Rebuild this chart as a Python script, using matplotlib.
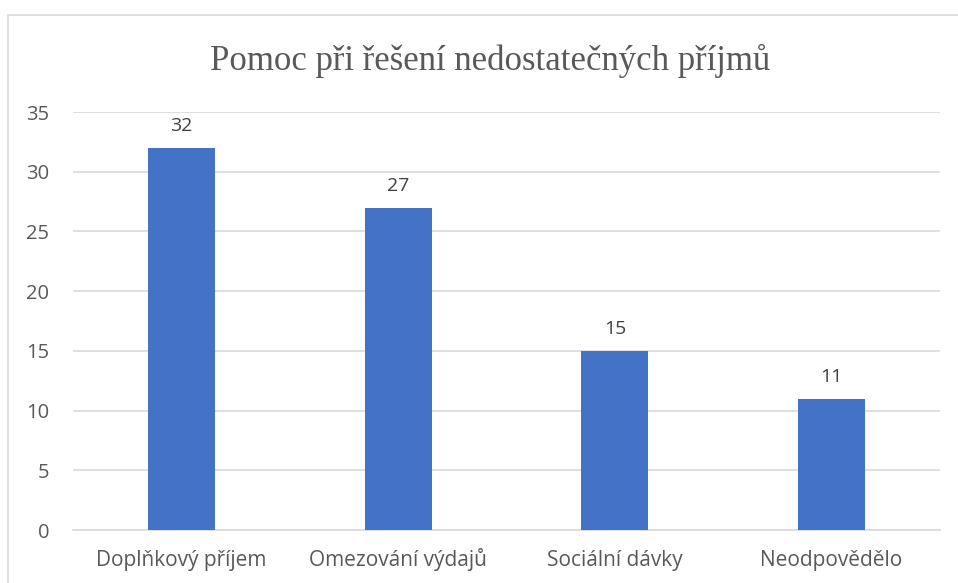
import matplotlib.pyplot as plt
from matplotlib.patches import Rectangle

# data
categories = ["Doplňkový příjem", "Omezování výdajů", "Sociální dávky", "Neodpovědělo"]
values = [32, 27, 15, 11]
yticks = [0, 5, 10, 15, 20, 25, 30, 35]

W, H = 958, 583
bar_color = "#4472C4"
text_gray = "#595959"
grid_gray = "#D9D9D9"

fig = plt.figure(figsize=(W / 100, H / 100), dpi=100)
ax = fig.add_axes([73 / W, 53 / H, (940 - 73) / W, (530 - 112) / H])

x = range(len(categories))
bars = ax.bar(x, values, width=0.31, color=bar_color, zorder=3)
for b, v in zip(bars, values):
    ax.annotate(str(v), (b.get_x() + b.get_width() / 2, v), xytext=(0, 12),
                textcoords="offset points", ha="center", va="baseline",
                fontsize=14, color="#404040", family="Open Sans")

ax.set_xlim(-0.5, len(categories) - 0.5)
ax.set_ylim(0, 35)
ax.set_yticks(yticks)
ax.set_xticks(list(x))
ax.set_xticklabels(categories)
ax.yaxis.grid(True, color=grid_gray, linewidth=1.2, zorder=0)
ax.tick_params(length=0, labelsize=14.5, labelcolor=text_gray)
ax.tick_params(axis="y", pad=17)
ax.tick_params(axis="x", pad=26, labelsize=15)
for lbl in ax.get_xticklabels():
    lbl.set_family("Open Sans")
    lbl.set_verticalalignment("baseline")
for lbl in ax.get_yticklabels():
    lbl.set_family("Open Sans")
for s in ["top", "right", "left"]:
    ax.spines[s].set_visible(False)
ax.spines["bottom"].set_color(grid_gray)
ax.spines["bottom"].set_linewidth(1.2)

# outer chart border
fig.patches.append(Rectangle((8 / W, -0.05), 1.0, (H - 15) / H + 0.05,
                             transform=fig.transFigure, fill=False,
                             edgecolor=grid_gray, linewidth=1.2))

fig.text(490 / W, 1 - 61 / H, "Pomoc při řešení nedostatečných příjmů",
         ha="center", va="center", fontsize=25, color=text_gray,
         family="Liberation Serif")

fig.savefig("out.png", dpi=100)
